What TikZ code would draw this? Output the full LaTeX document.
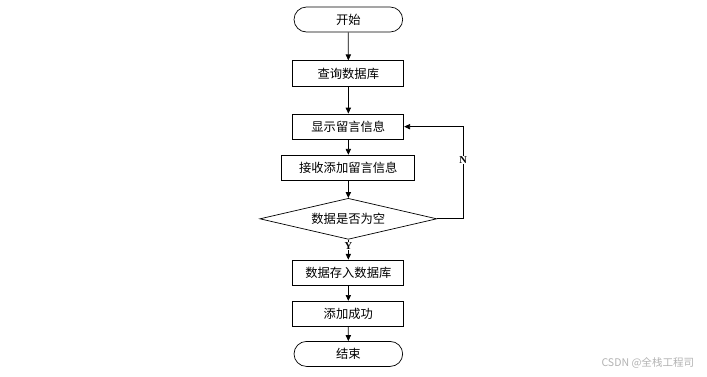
\documentclass[tikz,border=0pt]{standalone}
\usepackage{fontspec}
\setmainfont{Liberation Serif}
\newfontfamily\cjkfont{Noto Sans CJK SC}
\usetikzlibrary{arrows.meta,positioning,shapes.geometric,shapes.misc}

\begin{document}
\begin{tikzpicture}[
  box/.style={draw, line width=0.6pt, minimum width=3.33cm, minimum height=0.765cm,
              inner sep=1pt, font=\cjkfont\fontsize{10.5}{12}\selectfont},
  term/.style={box, rounded rectangle, minimum height=0.75cm},
  cond/.style={box, diamond, aspect=4.3, minimum width=5.31cm, minimum height=1.23cm, inner sep=0pt},
  arr/.style={-{Triangle[length=5pt,width=4.5pt]}, line width=0.6pt},
  tag/.style={fill=white, inner sep=0.5pt, font=\bfseries\fontsize{9}{10}\selectfont},
]
  \useasboundingbox (0,0) rectangle (21.21,-11.28);

  \node[term] (start) at (10.45,-0.585) {开始};
  \node[box, below=0.84cm of start] (query) {查询数据库};
  \node[box, below=0.81cm of query] (show) {显示留言信息};
  \node[box, minimum width=3.99cm, below=0.45cm of show] (receive) {接收添加留言信息};
  \node[cond, below=0.51cm of receive] (empty) {数据是否为空};
  \node[box, below=0.6cm of empty] (store) {数据存入数据库};
  \node[box, below=0.45cm of store] (success) {添加成功};
  \node[term, below=0.42cm of success] (finish) {结束};

  \draw[arr] (start) -- (query);
  \draw[arr] (query) -- (show);
  \draw[arr] (show) -- (receive);
  \draw[arr] (receive) -- (empty);
  \draw[arr] (empty) -- node[tag, pos=0.33] {Y} (store);
  \draw[arr] (store) -- (success);
  \draw[arr] (success) -- (finish);
  \draw[arr] (empty.east) -- ++(0.78,0) |- node[tag, pos=0.32] {N} (show.east);

  \node[anchor=east, text=gray!60, font=\cjkfont\fontsize{9}{10}\selectfont] (mark) at (20.95,-10.89) {CSDN @全栈工程司};
\end{tikzpicture}
\end{document}
